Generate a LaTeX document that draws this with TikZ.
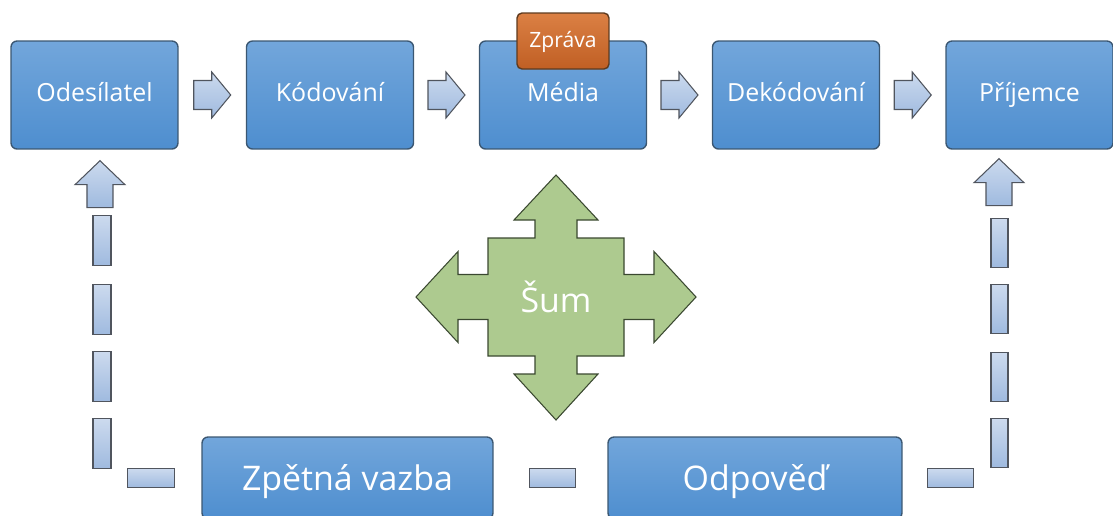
\documentclass[tikz,border=0pt]{standalone}
\usepackage{fontspec}
\setmainfont{Open Sans}
\usetikzlibrary{calc}
\definecolor{boxtop}{HTML}{72A6DB}
\definecolor{boxbot}{HTML}{4E8ECF}
\definecolor{boxline}{HTML}{3B5772}
\definecolor{arrtop}{HTML}{CCDAEE}
\definecolor{arrbot}{HTML}{9FBADF}
\definecolor{arrline}{HTML}{50555E}
\definecolor{msgtop}{HTML}{DB8044}
\definecolor{msgbot}{HTML}{C05F24}
\definecolor{msgline}{HTML}{5E3A1E}
\definecolor{noisefill}{HTML}{ADCA8F}
\definecolor{noiseline}{HTML}{3A4830}
\tikzset{
  stage/.style={draw=boxline,line width=0.8pt,rounded corners=0.12cm,
    top color=boxtop,bottom color=boxbot,text=white,
    minimum width=3.34cm,minimum height=2.16cm,inner sep=0pt,
    text height=0.36cm,text depth=0.1cm,
    font=\fontsize{14.2}{16}\selectfont},
  bigstage/.style={stage,minimum height=1.64cm,text height=0.49cm,text depth=0cm,
    font=\fontsize{19.3}{22}\selectfont},
  blockarrow/.style={draw=arrline,line width=0.6pt,top color=arrtop,bottom color=arrbot,line join=miter},
}
% right pointing block arrow between two nodes
\newcommand\flowarrow[2]{%
  \coordinate (m) at ($(#1.east)!0.5!(#2.west)$);
  \draw[blockarrow] ($(m)+(-18.5,-14.5)$) -- ++(18,0) -- ++(0,-8.5)
    -- ($(m)+(18.5,0)$) -- ($(m)+(-0.5,23)$) -- ++(0,-8.5)
    -- ($(m)+(-18.5,14.5)$) -- cycle;}
% upward block arrow head with short shaft
\newcommand\uparrowhead[1]{%
  \draw[blockarrow] (#1) -- ++(25,24) -- ++(-12,0) -- ++(0,23) -- ++(-26,0)
    -- ++(0,-23) -- ++(-12,0) -- cycle;}
\begin{document}
\begin{tikzpicture}[x=0.02cm,y=-0.02cm]
  \useasboundingbox (0,0) rectangle (1113,515);
  \clip (0,0) rectangle (1113,515);
  %% Chain
  \node[stage] (sender)   at (94.5,95)  {Odesílatel};
  \node[stage] (coding)   at (330,95)   {Kódování};
  \node[stage] (media)    at (563,95)   {Média};
  \node[stage] (decoding) at (796,95)   {Dekódování};
  \node[stage] (receiver) at (1029.5,95) {Příjemce};
  \node[draw=msgline,line width=0.8pt,rounded corners=0.1cm,top color=msgtop,bottom color=msgbot,
        text=white,minimum width=1.84cm,minimum height=1.12cm,inner sep=0pt,
        text height=0.3cm,text depth=0.05cm,
        font=\fontsize{12}{14}\selectfont] (message) at (563,41) {Zpráva};
  \flowarrow{sender}{coding}
  \flowarrow{coding}{media}
  \flowarrow{media}{decoding}
  \flowarrow{decoding}{receiver}
  %% Noise
  \begin{scope}[shift={(556,297)}]
    \draw[draw=noiseline,line width=0.6pt,fill=noisefill,line join=miter]
      (0,-122) -- (42,-77) -- (21,-77) -- (21,-59) -- (68,-59) -- (68,-22.5)
      -- (98,-22.5) -- (98,-45.5) -- (140,0) -- (98,45.5) -- (98,22.5) -- (68,22.5)
      -- (68,59) -- (21,59) -- (21,77) -- (42,77) -- (0,123) -- (-42,77) -- (-21,77)
      -- (-21,59) -- (-68,59) -- (-68,22.5) -- (-98,22.5) -- (-98,45.5) -- (-140,0)
      -- (-98,-45.5) -- (-98,-22.5) -- (-68,-22.5) -- (-68,-59) -- (-21,-59)
      -- (-21,-77) -- (-42,-77) -- cycle;
    \node[text=white,font=\fontsize{19.3}{22}\selectfont] (noise) at (0,0) {Šum};
  \end{scope}
  %% Feedback
  \node[bigstage,minimum width=5.82cm] (feedback) at (347.5,478) {Zpětná vazba};
  \node[bigstage,minimum width=5.88cm] (response) at (755,478) {Odpověď};
  \coordinate (fbtip) at ([xshift=0.11cm,yshift=-0.22cm]sender.south);
  \uparrowhead{fbtip}
  \foreach \d in {55,124,191,258}
    \draw[blockarrow] ($(fbtip)+(-7,\d)$) rectangle ++(18,50);
  \draw[blockarrow] ($(feedback.west)+(-74,-9.5)$) rectangle ++(47,19);
  \draw[blockarrow] ($(feedback.east)!0.5!(response.west)+(-21,-9.5)$) rectangle ++(46,19);
  \coordinate (rxtip) at ([xshift=-0.61cm,yshift=-0.18cm]receiver.south);
  \uparrowhead{rxtip}
  \foreach \d in {60,126,194,260}
    \draw[blockarrow] ($(rxtip)+(-8,\d)$) rectangle ++(17,49);
  \draw[blockarrow] ($(response.east)+(25,-9.5)$) rectangle ++(46,19);
\end{tikzpicture}
\end{document}
